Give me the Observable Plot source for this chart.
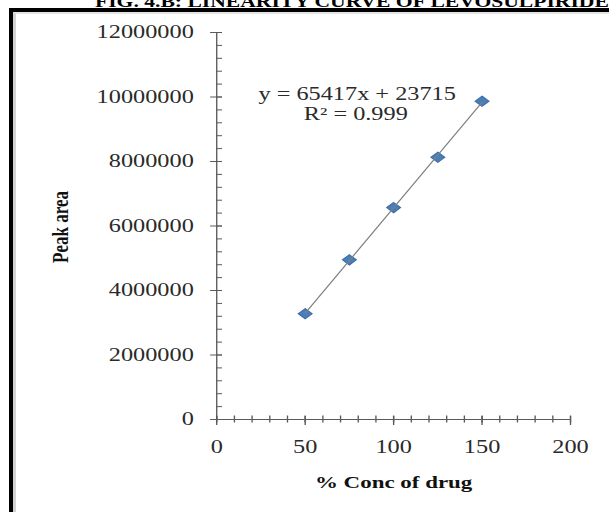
<!DOCTYPE html>
<html>
<head>
<meta charset="utf-8">
<script src="https://cdn.jsdelivr.net/npm/d3@7"></script>
<script src="https://cdn.jsdelivr.net/npm/@observablehq/plot@0.6"></script>
<style>
  html, body { margin: 0; padding: 0; overflow: hidden; background: #fff; }
  #wrap { position: relative; width: 609px; height: 512px; overflow: hidden; background: #fff; }
  #title { position: absolute; left: 95px; top: -6.4px; font: bold 16px "Liberation Serif", serif; line-height: 16px;
           white-space: nowrap; transform: scaleX(1.35); transform-origin: left top; color: #000; }
  #frame { position: absolute; left: 9px; top: 8px; width: 700px; height: 600px;
           border-left: 4.5px solid #000; border-top: 4px solid #000; }
  #inner { position: absolute; left: 0; top: 0; width: 700px; height: 600px;
           border-left: 3px solid #d2d2d2; border-top: 2px solid #e4e4e4; }
  #chart { position: absolute; left: 0; top: 0; }
</style>
</head>
<body>
<div id="wrap">
  <div id="title">FIG. 4.B: LINEARITY CURVE OF LEVOSULPIRIDE</div>
  <div id="frame"><div id="inner"></div></div>
  <div id="chart"></div>
</div>
<script>
// ---- data ----
const concentrations = [50, 75, 100, 125, 150];
const peakAreas = [3280000, 4950000, 6570000, 8130000, 9870000];
const yTickValues = [0, 2000000, 4000000, 6000000, 8000000, 10000000, 12000000];
const xTickValues = [0, 50, 100, 150, 200];
const trendSlope = 65417;
const trendIntercept = 23715;
const equationText = "y = 65417x + 23715";
const r2Text = "R\u00B2 = 0.999";
const xTitle = "% Conc of drug";
const yTitle = "Peak area";

// ---- derived ----
const points = concentrations.map((c, i) => ({x: c, y: peakAreas[i]}));
const trendXs = [d3.min(concentrations), d3.max(concentrations)];
const trend = trendXs.map(x => ({x, y: trendSlope * x + trendIntercept}));
const yMinor = d3.range(0, 12000001, 400000);
const xMinor = d3.range(0, 201, 10);

const STRETCH = 1.35;
const W = Math.round(609 / STRETCH);
const H = 512;
const axisColor = "#5a5a5a";

const plot = Plot.plot({
  width: W,
  height: H,
  marginLeft: 160,
  marginRight: W - 422,
  marginTop: 32,
  marginBottom: 93,
  x: {domain: [0, 200], axis: null},
  y: {domain: [0, 12000000], axis: null},
  style: {fontFamily: "'Liberation Serif', 'Times New Roman', serif", background: "transparent", color: "#222"},
  marks: [
    Plot.axisY({ticks: yMinor, tickSize: 4.4, dx: 4.4, text: null, stroke: axisColor, label: null}),
    Plot.axisY({ticks: yTickValues, tickSize: 8.8, dx: 4.4, text: null, stroke: axisColor, label: null}),
    Plot.axisY({ticks: yTickValues, tickSize: 0, tickPadding: 17, tickFormat: d3.format("d"), fontSize: 18, fill: "#2a2a2a", label: null}),
    Plot.axisX({ticks: xMinor, tickSize: 7, dy: -3.5, text: null, stroke: axisColor, label: null}),
    Plot.axisX({ticks: xTickValues, tickSize: 9, dy: -3, text: null, stroke: axisColor, label: null}),
    Plot.axisX({ticks: xTickValues, tickSize: 0, tickPadding: 21, tickFormat: d3.format("d"), fontSize: 18, fill: "#2a2a2a", label: null}),
    Plot.ruleX([0], {stroke: axisColor}),
    Plot.ruleY([0], {stroke: axisColor}),
    Plot.dot(points, {x: "x", y: "y", symbol: "diamond2", r: 4.6, fill: "#4A7EBB", stroke: "#3E6FA8", strokeWidth: 1}),
    Plot.line(trend, {x: "x", y: "y", stroke: "#7f7f7f", strokeWidth: 1}),
    Plot.text([equationText], {frameAnchor: "top", dx: -27, dy: 62, fontSize: 18, fill: "#2a2a2a", lineAnchor: "middle"}),
    Plot.text([r2Text], {frameAnchor: "top", dx: -28, dy: 82, fontSize: 18, fill: "#2a2a2a", lineAnchor: "middle"}),
    Plot.text([xTitle], {frameAnchor: "bottom", dy: 62.6, fontSize: 17, fontWeight: "bold", fill: "#111", lineAnchor: "middle", textAnchor: "middle"}),
    Plot.text([yTitle], {frameAnchor: "left", dx: -115.6, dy: 1, rotate: -90, fontSize: 17, fontWeight: "bold", fill: "#111", lineAnchor: "middle", textAnchor: "middle"})
  ]
});

plot.setAttribute("width", 609);
plot.setAttribute("height", H);
plot.setAttribute("preserveAspectRatio", "none");
plot.style.width = "609px";
plot.style.height = H + "px";
plot.style.maxWidth = "none";
document.getElementById("chart").appendChild(plot);
</script>
</body>
</html>
